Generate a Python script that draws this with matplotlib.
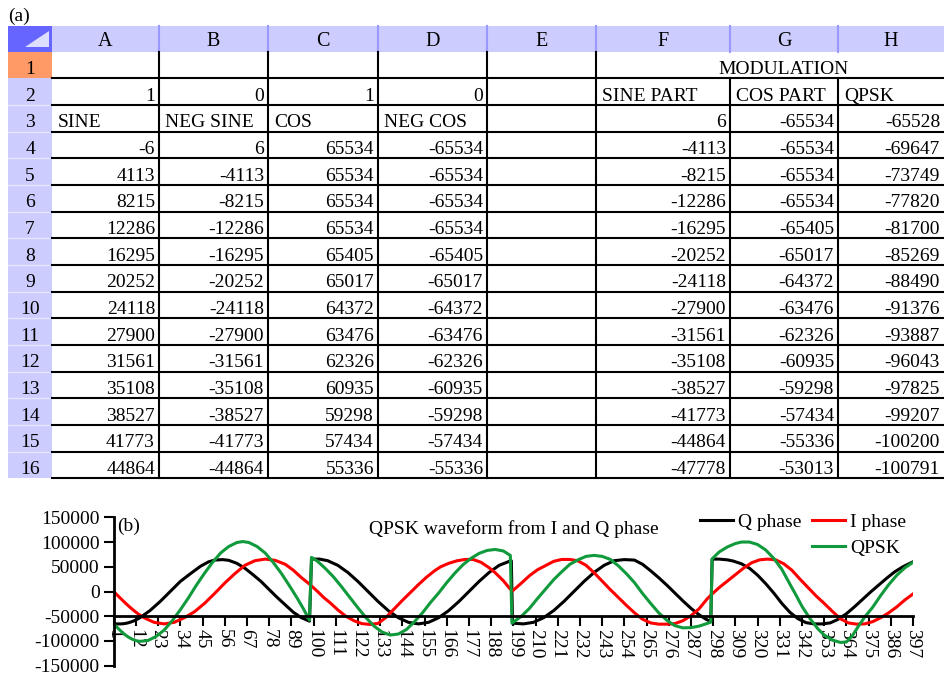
import matplotlib.pyplot as plt
from matplotlib.lines import Line2D
from matplotlib.patches import Rectangle, Polygon

plt.rcParams['font.family'] = ['Liberation Serif', 'DejaVu Serif']
plt.rcParams['axes.unicode_minus'] = False

# ---- spreadsheet contents ----
col_letters = ['A', 'B', 'C', 'D', 'E', 'F', 'G', 'H']
row2_vals = ['1', '0', '1', '0']
row3_heads = ['SINE', 'NEG SINE', 'COS', 'NEG COS']
mod_title = 'MODULATION'
mod_heads = ['SINE PART', 'COS PART', 'QPSK']

sine = [-6, 4113, 8215, 12286, 16295, 20252, 24118, 27900, 31561, 35108, 38527, 41773, 44864]
neg_sine = [6, -4113, -8215, -12286, -16295, -20252, -24118, -27900, -31561, -35108, -38527, -41773, -44864]
cosine = [65534, 65534, 65534, 65534, 65405, 65017, 64372, 63476, 62326, 60935, 59298, 57434, 55336]
neg_cos = [-65534, -65534, -65534, -65534, -65405, -65017, -64372, -63476, -62326, -60935, -59298, -57434, -55336]
sine_part = [6, -4113, -8215, -12286, -16295, -20252, -24118, -27900, -31561, -35108, -38527, -41773, -44864, -47778]
cos_part = [-65534, -65534, -65534, -65534, -65405, -65017, -64372, -63476, -62326, -60935, -59298, -57434, -55336, -53013]
qpsk_col = [-65528, -69647, -73749, -77820, -81700, -85269, -88490, -91376, -93887, -96043, -97825, -99207, -100200, -100791]

# ---- waveform samples (sample index, value) ----
q_n = [1, 2, 3, 4, 5, 6, 7, 8, 9, 10, 11, 12, 13, 14, 19, 24, 29, 34, 39, 44, 48, 51, 55, 58, 62, 66, 70, 74, 78, 82,
       86, 90, 94, 98,
       99, 103, 107, 112, 117, 122, 127, 132, 137, 142, 147, 152, 157, 162, 167, 172, 177, 182, 187, 192, 197, 198,
       198.6, 204, 209, 214, 219, 224, 229, 234, 239, 244, 249, 254, 259, 263, 267, 271, 275, 279, 283, 287, 291,
       294, 296.8,
       297.5, 301, 305, 308, 312, 316, 320, 324, 328, 332, 336, 340, 344, 348, 352, 356, 360, 364, 368, 372, 376,
       380, 384, 388, 392, 397]
q_v = [-65534, -65534, -65534, -65534, -65405, -65017, -64372, -63476, -62326, -60935, -59298, -57434, -55336, -53013,
       -38500, -20300, 0, 20300, 36000, 51000, 60000, 63500, 64500, 63000, 57000, 47000, 34000, 20300, 4000, -12000,
       -27000, -42000, -53000, -60000,
       65500, 65500, 62300, 53000, 38500, 20300, 0, -20300, -38500, -53000, -62300, -65500, -62300, -53000, -38500,
       -20300, 0, 20300, 38500, 53000, 61000, 62000,
       -64000, -65500, -62300, -53000, -38500, -20300, 0, 20300, 38500, 53000, 62300, 64500, 63500, 55000, 42000,
       28000, 13000, -3000, -19000, -34000, -47000, -55000, -61000,
       65500, 65500, 64000, 61500, 56000, 47000, 33000, 16000, -3000, -24000, -42000, -55000, -63000, -65500, -65500,
       -63500, -56000, -45000, -31000, -16000, -1000, 13000, 27000, 40000, 50000, 60000]

i_n = [1, 2, 3, 4, 5, 6, 7, 8, 9, 10, 11, 12, 13, 14, 16, 21, 26, 31, 36, 41, 46, 51, 56, 61, 66, 71, 76, 81, 86, 90,
       94, 98, 102, 105, 108, 112, 116, 120, 124, 128, 132, 136, 140, 144, 148, 152, 156, 160, 163, 167, 171, 175,
       179, 183, 187, 190, 194, 197, 198.5,
       203, 207, 211, 215, 219, 223, 227, 231, 235, 239, 243, 247, 251, 255, 259, 263, 267, 271, 275, 279, 283, 287,
       291, 295, 298, 301, 305, 309, 313, 317, 321, 325, 329, 333, 337, 341, 345, 349, 353, 357, 361, 365, 369, 373,
       377, 381, 385, 389, 393, 397]
i_v = [6, -4113, -8215, -12286, -16295, -20252, -24118, -27900, -31561, -35108, -38527, -41773, -44864, -47778,
       -53000, -62300, -65500, -62300, -53000, -41000, -24000, -4000, 17000, 36000, 53000, 62300, 65500, 63000, 55000,
       43000, 28000, 15000, 0, -12000, -22000, -37000, -50000, -59000, -65000, -66600, -64500, -52000, -35000, -18000,
       -2000, 14000, 29000, 42000, 50000, 57000, 62000, 64800, 64800, 59000, 48000, 38000, 22000, 7000, 1000,
       17000, 32000, 44000, 52500, 61000, 64800, 64800, 62000, 53000, 38000, 21000, 4000, -12000, -28000, -43000,
       -56000, -63500, -66000, -66000, -65000, -59000, -49000, -35000, -15000, -3000, 8000, 21000, 34000, 47000,
       58000, 64000, 65500, 64000, 56000, 43000, 25000, 8000, -9000, -24000, -40000, -55000, -63500, -66000, -65500,
       -61000, -53000, -43000, -31000, -17000, -5000]

p_n = [1, 2, 3, 4, 5, 6, 7, 8, 9, 10, 11, 12, 13, 14, 18, 22, 26, 30, 34, 38, 42, 46, 50, 54, 58, 62, 65, 68, 72, 76,
       80, 84, 88, 92, 95, 98,
       99, 102, 106, 110, 114, 118, 122, 126, 130, 134, 138, 142, 146, 150, 154, 158, 162, 166, 170, 174, 178, 182,
       186, 190, 194, 197.5,
       198.3, 203, 207, 211, 215, 219, 223, 227, 231, 235, 239, 243, 247, 251, 255, 259, 263, 267, 271, 275, 279,
       283, 287, 291, 294, 296.8,
       297.5, 301, 305, 309, 312, 316, 320, 324, 328, 332, 336, 339, 342, 346, 350, 353, 357, 361, 364, 367, 370,
       373, 377, 381, 385, 389, 393, 397]
p_v = [-65528, -69647, -73749, -77820, -81700, -85269, -88490, -91376, -93887, -96043, -97825, -99207, -100200,
       -100791, -99000, -91000, -78000, -59000, -37000, -13000, 13000, 37000, 59000, 78000, 91000, 99000, 101000,
       99000, 91000, 78000, 59000, 37000, 12000, -14000, -35000, -58000,
       69000, 61000, 46000, 29000, 9000, -12000, -33000, -53000, -70000, -82000, -88000, -86000, -77000, -61000,
       -43000, -22000, -3000, 18000, 37000, 54000, 67000, 77000, 83000, 85000, 82000, 73000,
       -64000, -50000, -34000, -14000, 5000, 24000, 40000, 55000, 64000, 71000, 73000, 71000, 65000, 52000, 36000,
       18000, -4000, -24000, -43000, -58000, -69000, -73500, -73000, -70000, -66000, -62000,
       66000, 80000, 90000, 97000, 100000, 100000, 95000, 84000, 67000, 45000, 15000, -7000, -30000, -55000, -76000,
       -88000, -98000, -103000, -102000, -89000, -70000, -52000, -32000, -8000, 14000, 33000, 48000, 59000]

tick_pos = list(range(1, 398, 11))
y_ticks = [-150000, -100000, -50000, 0, 50000, 100000, 150000]

W, H = 944, 677
FS = 14
fig = plt.figure(figsize=(W / 100, H / 100), dpi=100)

# ---- (a) spreadsheet drawn in pixel coordinates ----
tab = fig.add_axes([0, 0, 1, 1])
tab.set_xlim(0, W)
tab.set_ylim(H, 0)
tab.axis('off')

xe = [8, 52, 159, 268, 378, 487, 596, 730, 838, 944]
head_top, head_bot = 26, 51.7
rh = 26.67
nrows = 16
row_top = [head_bot + r * rh for r in range(nrows)]
tab_bot = head_bot + nrows * rh

tab.add_patch(Rectangle((xe[1], head_top), W - xe[1], head_bot - head_top, color='#CCCCFF', lw=0))
tab.add_patch(Rectangle((xe[0], head_top), xe[1] - xe[0], head_bot - head_top, color='#6666FF', lw=0))
tab.add_patch(Polygon([(25, 47), (48.5, 47), (48.5, 30.5)], closed=True, color='#DDDDFF', lw=0))
tab.add_patch(Rectangle((xe[0], head_bot), xe[1] - xe[0], tab_bot - head_bot, color='#CCCCFF', lw=0))
tab.add_patch(Rectangle((xe[0], row_top[0]), xe[1] - xe[0], rh, color='#FF9966', lw=0))
for x in xe[2:9]:
    tab.plot([x, x], [head_top, head_bot], color='#9999FF', lw=1.5)
for t in row_top[2:]:
    tab.plot([xe[0], xe[1]], [t, t], color='#E6E6FF', lw=1)

for c, letter in enumerate(col_letters):
    tab.text((xe[c + 1] + xe[c + 2]) / 2, head_bot - 5.5, letter, ha='center', va='baseline', fontsize=FS + 0.5)
for r in range(nrows):
    tab.text((xe[0] + xe[1]) / 2, row_top[r] + rh - 4.5, str(r + 1), ha='center', va='baseline', fontsize=FS)

# grid lines
for r in range(nrows):
    yb = row_top[r] + rh
    tab.plot([xe[1], W], [yb, yb], color='black', lw=1.5)
for x in xe[2:7]:
    tab.plot([x, x], [head_bot, tab_bot], color='black', lw=1.5)
for x in xe[7:9]:
    tab.plot([x, x], [row_top[1], tab_bot], color='black', lw=1.5)


def cell_text(col, row, s, align):
    yb = row_top[row - 1] + rh - 4.5
    if align == 'right':
        tab.text(xe[col + 2] - 4, yb, s, ha='right', va='baseline', fontsize=FS)
    else:
        tab.text(xe[col + 1] + 6, yb, s, ha='left', va='baseline', fontsize=FS)


for c in range(4):
    cell_text(c, 2, row2_vals[c], 'right')
    cell_text(c, 3, row3_heads[c], 'left')
for k in range(len(sine)):
    cell_text(0, 4 + k, str(sine[k]), 'right')
    cell_text(1, 4 + k, str(neg_sine[k]), 'right')
    cell_text(2, 4 + k, str(cosine[k]), 'right')
    cell_text(3, 4 + k, str(neg_cos[k]), 'right')
tab.text(784, row_top[0] + rh - 4.5, mod_title, ha='center', va='baseline', fontsize=FS)
for c in range(3):
    cell_text(5 + c, 2, mod_heads[c], 'left')
for k in range(len(sine_part)):
    cell_text(5, 3 + k, str(sine_part[k]), 'right')
    cell_text(6, 3 + k, str(cos_part[k]), 'right')
    cell_text(7, 3 + k, str(qpsk_col[k]), 'right')

tab.text(8, 16, '(a)', ha='left', va='center', fontsize=FS)

# ---- (b) waveform chart ----
x0, x1, ytop, ybot = 113.7, 913.0, 517.3, 665.7
ax = fig.add_axes([x0 / W, 1 - ybot / H, (x1 - x0) / W, (ybot - ytop) / H])
ax.set_facecolor('none')
hq, = ax.plot(q_n, q_v, color='black', lw=2.2, label='Q phase')
hi, = ax.plot(i_n, i_v, color='#FF0000', lw=2.2, label='I phase')
hp, = ax.plot(p_n, p_v, color='#109A3C', lw=2.2, label='QPSK')
ax.set_xlim(1, 397)
ax.set_ylim(-150000, 150000)
ax.spines['top'].set_visible(False)
ax.spines['right'].set_visible(False)
ax.spines['left'].set_linewidth(2)
ax.spines['bottom'].set_linewidth(2)
ax.spines['bottom'].set_position(('data', -50000))
ax.set_yticks(y_ticks)
ax.set_yticklabels([str(v) for v in y_ticks])
ax.set_xticks(tick_pos)
ax.set_xticklabels([str(t) for t in tick_pos], rotation=-90)
ax.tick_params(axis='y', direction='out', length=7, width=1.5, labelsize=FS, pad=3)
ax.tick_params(axis='x', direction='out', length=7, width=1.5, labelsize=FS, pad=2)

blank = Line2D([], [], linestyle='none')
ax.legend([hq, blank, hi, hp], ['Q phase', '', 'I phase', 'QPSK'], ncol=2, frameon=False,
          loc='upper left', bbox_to_anchor=(700 / W, 1 - 513 / H), bbox_transform=fig.transFigure,
          fontsize=FS, handlelength=1.7, handletextpad=0.25, columnspacing=0.55,
          borderpad=0, borderaxespad=0, labelspacing=0.45)

tab.text(117, 526, '(b)', ha='left', va='center', fontsize=FS)
tab.text(514, 529, 'QPSK waveform from I and Q phase', ha='center', va='center', fontsize=FS)

fig.savefig('out.png', dpi=100)
